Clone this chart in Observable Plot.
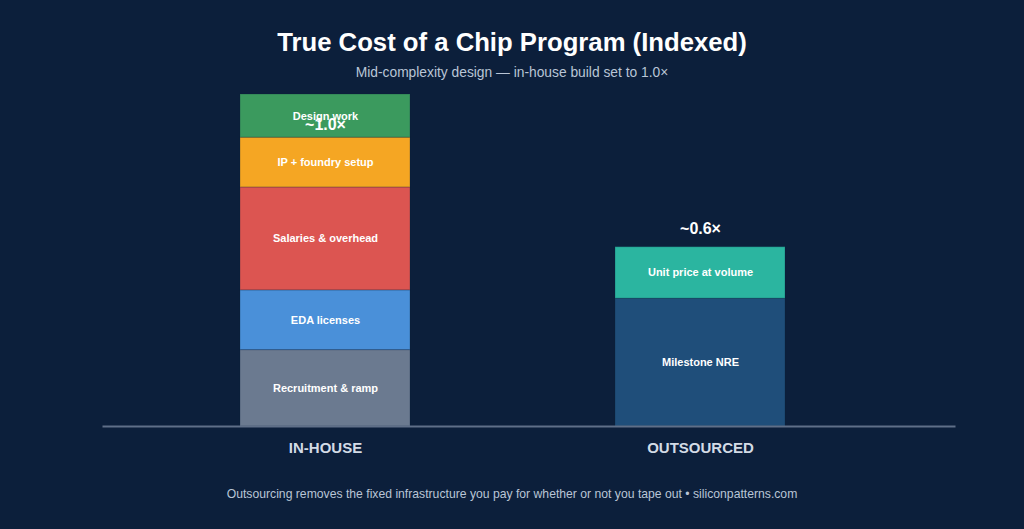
<!DOCTYPE html>
<html>
<head>
<meta charset="utf-8">
<script src="https://cdn.jsdelivr.net/npm/d3@7"></script>
<script src="https://cdn.jsdelivr.net/npm/@observablehq/plot@0.6"></script>
<style>
  html, body { margin: 0; padding: 0; background: #0c1f3b; }
  body { width: 1024px; height: 529px; overflow: hidden; font-family: "Liberation Sans", Arial, Helvetica, sans-serif; }
  #header { height: 88px; position: relative; }
  #title { position: absolute; top: 28px; left: 0; width: 1024px; text-align: center; color: #ffffff; font-size: 25.7px; font-weight: bold; }
  #subtitle { position: absolute; top: 65px; left: 0; width: 1024px; text-align: center; color: #b9c5d6; font-size: 13.8px; }
  #chart { height: 380px; }
  #chart svg { display: block; }
  #caption { text-align: center; color: #b9c5d6; font-size: 12.2px; margin-top: 19px; }
</style>
</head>
<body>
<div id="header">
  <div id="title">True Cost of a Chip Program (Indexed)</div>
  <div id="subtitle">Mid-complexity design — in-house build set to 1.0×</div>
</div>
<div id="chart"></div>
<div id="caption">Outsourcing removes the fixed infrastructure you pay for whether or not you tape out • siliconpatterns.com</div>
<script>
const categories = ["IN-HOUSE", "OUTSOURCED"];
const inHouseSegments = ["Recruitment & ramp", "EDA licenses", "Salaries & overhead", "IP + foundry setup", "Design work"];
const inHouseValues = [0.23, 0.18, 0.31, 0.15, 0.13];
const outsourcedSegments = ["Milestone NRE", "Unit price at volume"];
const outsourcedValues = [0.385, 0.155];
const totalLabels = ["~1.0×", "~0.6×"];
const segmentColors = {
  "Recruitment & ramp": "#6b7a90",
  "EDA licenses": "#4a90d9",
  "Salaries & overhead": "#dc5551",
  "IP + foundry setup": "#f5a623",
  "Design work": "#3b9a5e",
  "Milestone NRE": "#1f4e7a",
  "Unit price at volume": "#2bb5a0"
};

const rows = [];
inHouseSegments.forEach((s, i) => rows.push({cat: categories[0], seg: s, value: inHouseValues[i]}));
outsourcedSegments.forEach((s, i) => rows.push({cat: categories[1], seg: s, value: outsourcedValues[i]}));

const totals = categories.map((c, i) => ({
  cat: c,
  label: totalLabels[i],
  total: d3.sum(rows.filter(r => r.cat === c), r => r.value)
}));

const segOrder = [...inHouseSegments, ...outsourcedSegments];

const chart = Plot.plot({
  width: 1024,
  height: 380,
  marginTop: 6,
  marginBottom: 42,
  marginLeft: 126.5,
  marginRight: 126.5,
  style: { background: "transparent", fontFamily: "Liberation Sans, Arial, sans-serif" },
  x: { domain: categories, paddingInner: 0.5467, paddingOuter: 0.3, label: null },
  y: { domain: [0, 1], axis: null },
  color: { domain: segOrder, range: segOrder.map(s => segmentColors[s]) },
  marks: [
    Plot.barY(rows, Plot.stackY({
      x: "cat", y: "value", fill: "seg", z: "seg", order: segOrder,
      stroke: "#0c1f3b", strokeOpacity: 0.25, strokeWidth: 1
    })),
    Plot.text(rows, Plot.stackY({
      x: "cat", y: "value", z: "seg", order: segOrder, text: "seg",
      fill: "white", fontWeight: "bold", fontSize: 11
    })),
    Plot.ruleY([0], { stroke: "#5f6f88", strokeWidth: 2, insetLeft: -24, insetRight: -58 }),
    Plot.text(totals, {
      x: "cat", y: d => Math.min(d.total + 0.055, 0.91), text: "label",
      fill: "white", fontWeight: "bold", fontSize: 16
    }),
    Plot.axisX({ tickSize: 0, tickPadding: 16, fontSize: 15, fontWeight: "bold", color: "#d3dbe6", label: null })
  ]
});
document.getElementById("chart").appendChild(chart);
</script>
</body>
</html>
